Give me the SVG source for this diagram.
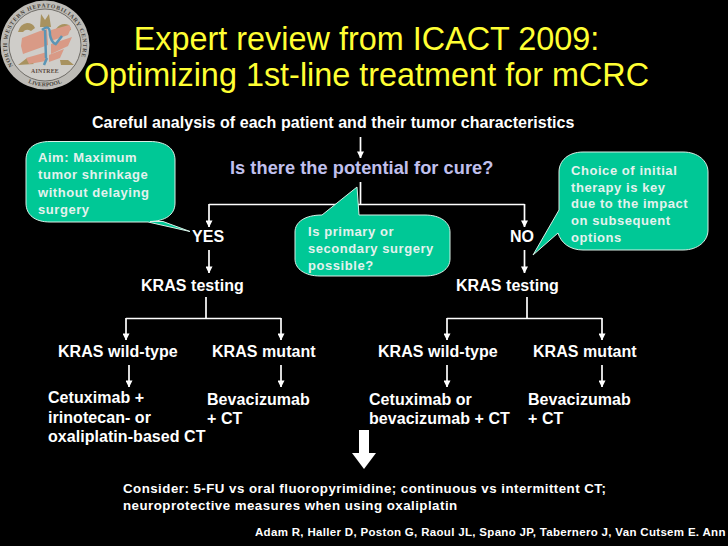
<svg xmlns="http://www.w3.org/2000/svg" width="728" height="546" viewBox="0 0 728 546">
<style>
text{font-family:"Liberation Sans",Arial,sans-serif;font-weight:700;fill:#fff;font-size:16px;letter-spacing:.05px}
.title{font-weight:400;fill:#ffff33;font-size:32.400px;text-anchor:middle;letter-spacing:0}
.call{fill:#00c896;stroke:#d8efe6;stroke-width:1}
.ct{fill:#e4f2ee;font-size:13px;letter-spacing:.56px}
.line{fill:none;stroke:#fff;stroke-width:1.700}
.small{font-size:13.300px;letter-spacing:.47px}
.lg{font-family:"Liberation Serif",serif;font-size:5.800px;fill:#4a4640;letter-spacing:0}
</style>
<defs>
<marker id="ah" viewBox="0 0 8 8" refX="7.5" refY="4" markerWidth="7" markerHeight="7" markerUnits="userSpaceOnUse" orient="auto"><path d="M0 0L8 4L0 8Z" fill="#fff"/></marker>
<path id="topArc" d="M13 66A38 38 0 1 1 77 66"/>
<path id="botArc" d="M22 79.500A41.600 41.600 0 0 0 68 79.500"/>
</defs>
<rect width="728" height="546" fill="#000"/>
<g id="logo">
<circle cx="45" cy="45" r="44.500" fill="#bdbbb6"/>
<circle cx="45" cy="45" r="36" fill="#cfcdc9" stroke="#6f6c67" stroke-width="1"/>
<path d="M40 27l1-13 4 6 4-6 2 13zM18 32q2-8 9-9q6 0 8 5l-4 3q-5-3-8 1zM56 29q5-7 13-4l2 5-5 1q-4-3-9 1zM18 65l9-7 7 6zM60 60l8 0 6 5-13 0z" fill="#a8925f"/>
<path d="M22 38l18-7 7-2 1 16-25 9-2-8zM51 30l18-5 2 3-3 7-17 6zM51 44l21-7-4 9-17 8zM26 58l21-6-1 9-17 3zM49 55l15-6-4 9-11 4z" fill="#d99a86"/>
<path d="M42 30q8-7 8 5q1 6 5 9M45 30l1 28M47 58l-3 7M55 45l7-9" fill="none" stroke="#5b95b5" stroke-width="2.500"/>
<text style="font-size:5.800px;font-family:'Liberation Serif',serif;fill:#5c4a3f;letter-spacing:.2px" x="45" y="73" text-anchor="middle">AINTREE</text>
<text class="lg"><textPath href="#topArc" textLength="152" lengthAdjust="spacing">NORTH WESTERN HEPATOBILIARY CENTRE</textPath></text>
<text class="lg" text-anchor="middle"><textPath href="#botArc" startOffset="50%">LIVERPOOL</textPath></text>
</g>
<g id="title">
<text class="title" x="366.500" y="50">Expert review from ICACT 2009:</text>
<text class="title" x="366.500" y="86">Optimizing 1st-line treatment for mCRC</text>
</g>
<g id="connectors">
<path class="line" marker-end="url(#ah)" d="M360.500 137V158"/>
<path class="line" d="M360.500 182V204.500M209 204.500H524.500"/>
<path class="line" marker-end="url(#ah)" d="M209 204V227"/>
<path class="line" marker-end="url(#ah)" d="M524.500 204V227"/>
<path class="line" marker-end="url(#ah)" d="M209 250V273"/>
<path class="line" marker-end="url(#ah)" d="M524.500 250V273"/>
<path class="line" d="M206 297V318.500"/>
<path class="line" d="M527 297V318.500"/>
<path class="line" d="M126 318.500H281"/>
<path class="line" d="M447 318.500H602"/>
<path class="line" marker-end="url(#ah)" d="M126 318V340"/>
<path class="line" marker-end="url(#ah)" d="M281 318V340"/>
<path class="line" marker-end="url(#ah)" d="M447 318V340"/>
<path class="line" marker-end="url(#ah)" d="M602 318V340"/>
<path class="line" marker-end="url(#ah)" d="M129 365V387"/>
<path class="line" marker-end="url(#ah)" d="M281 365V387"/>
<path class="line" marker-end="url(#ah)" d="M447 365V387"/>
<path class="line" marker-end="url(#ah)" d="M602 365V387"/>
<path fill="#fff" d="M359 430H369V453H376L364 469L352 453H359Z"/>
</g>
<g id="n-careful"><text x="92" y="128">Careful analysis of each patient and their tumor characteristics</text></g>
<g id="n-cure"><text x="230" y="174" style="fill:#c0c0ee;font-size:18.200px">Is there the potential for cure?</text></g>
<g id="c-aim">
<path class="call" d="M50 141.500H150C165 141.500 175 148 175 160V203C175 215 165 221 150 221.500H163L190 231.500L148 222H50C35 222 26 215 26 203V160C26 148 35 141.500 50 141.500Z"/>
<text class="ct"><tspan x="38" y="162">Aim: Maximum</tspan><tspan x="38" y="179">tumor shrinkage</tspan><tspan x="38" y="197">without delaying</tspan><tspan x="38" y="214">surgery</tspan></text>
</g>
<g id="c-surgery">
<path class="call" d="M322 215L357 187L359 215H425C440 215 450 222 450 232V259C450 269 440 276 425 276H320C305 276 295 269 295 259V232C295 222 305 215 322 215Z"/>
<text class="ct"><tspan x="308" y="236">Is primary or</tspan><tspan x="308" y="253">secondary surgery</tspan><tspan x="308" y="270">possible?</tspan></text>
</g>
<g id="c-choice">
<path class="call" d="M583 152H683C698 152 708 161 708 172V230C708 241 698 250 683 250H583C570 250 561 243 558 233L533 255L559 210V172C559 161 568 152 583 152Z"/>
<text class="ct"><tspan x="571" y="175">Choice of initial</tspan><tspan x="571" y="192">therapy is key</tspan><tspan x="571" y="208">due to the impact</tspan><tspan x="571" y="225">on subsequent</tspan><tspan x="571" y="242">options</tspan></text>
</g>
<g id="n-yes"><text x="192" y="242">YES</text></g>
<g id="n-no"><text x="510" y="242">NO</text></g>
<g id="n-test1"><text x="141" y="291">KRAS testing</text></g>
<g id="n-test2"><text x="456" y="291">KRAS testing</text></g>
<g id="n-wt1"><text x="58" y="357">KRAS wild-type</text></g>
<g id="n-mut1"><text x="212" y="357">KRAS mutant</text></g>
<g id="n-wt2"><text x="378" y="357">KRAS wild-type</text></g>
<g id="n-mut2"><text x="533" y="357">KRAS mutant</text></g>
<g id="n-cet1"><text><tspan x="48" y="403">Cetuximab +</tspan><tspan x="48" y="423">irinotecan- or</tspan><tspan x="48" y="442">oxaliplatin-based CT</tspan></text></g>
<g id="n-bev1"><text><tspan x="207" y="405">Bevacizumab</tspan><tspan x="207" y="424">+ CT</tspan></text></g>
<g id="n-cet2"><text><tspan x="369" y="405">Cetuximab or</tspan><tspan x="369" y="424">bevacizumab + CT</tspan></text></g>
<g id="n-bev2"><text><tspan x="528" y="405">Bevacizumab</tspan><tspan x="528" y="424">+ CT</tspan></text></g>
<g id="n-consider"><text class="small"><tspan x="123" y="493">Consider: 5-FU vs oral fluoropyrimidine; continuous vs intermittent CT;</tspan><tspan x="123" y="510">neuroprotective measures when using oxaliplatin</tspan></text></g>
<g id="n-ref"><text style="font-size:11.500px;letter-spacing:.32px" x="255" y="536">Adam R, Haller D, Poston G, Raoul JL, Spano JP, Tabernero J, Van Cutsem E. Ann</text></g>
</svg>
